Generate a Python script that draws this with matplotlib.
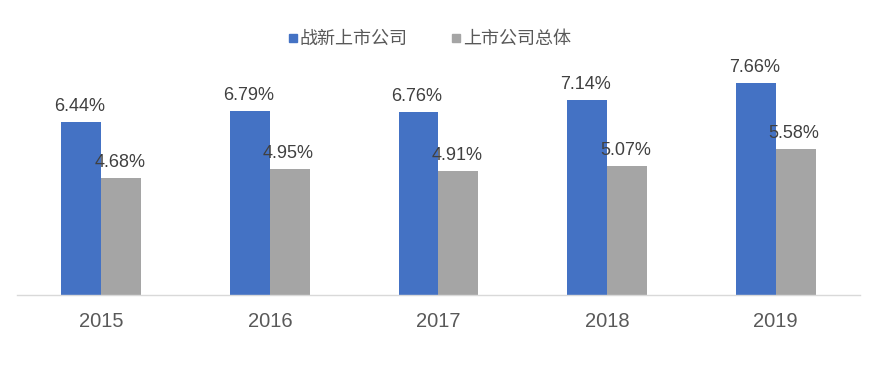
import numpy as np
import matplotlib.pyplot as plt
from matplotlib.lines import Line2D

years = ["2015", "2016", "2017", "2018", "2019"]
new_listed = [6.44, 6.79, 6.76, 7.14, 7.66]
all_listed = [4.68, 4.95, 4.91, 5.07, 5.58]
series_names = ["战新上市公司", "上市公司总体"]

blue = "#4472C4"
gray = "#A5A5A5"

plt.rcParams["font.family"] = ["Liberation Sans", "DejaVu Sans"]

fig = plt.figure(figsize=(8.82, 3.66), dpi=100)
ax = fig.add_axes([0.0193, 0.194, 0.9557, 0.643])

x = np.arange(len(years))
w = 0.237
b1 = ax.bar(x - w / 2, new_listed, w, color=blue, bottom=0)
b2 = ax.bar(x + w / 2, all_listed, w, color=gray, bottom=0)

# value labels above each bar
for bars, vals in [(b1, new_listed), (b2, all_listed)]:
    for rect, v in zip(bars, vals):
        ax.annotate(f"{v:.2f}%", (rect.get_x() + rect.get_width() / 2, v),
                    xytext=(-1, 5), textcoords="offset points",
                    ha="center", va="bottom", fontsize=13, color="#404040")

ax.set_ylim(1, 8.4)
ax.set_xlim(-0.5, 4.5)
ax.set_xticks(x)
ax.set_xticklabels(years, fontsize=14.5, color="#595959")
ax.tick_params(axis="x", length=0, pad=12)
ax.set_yticks([])
for s in ["top", "left", "right"]:
    ax.spines[s].set_visible(False)
ax.spines["bottom"].set_color("#D9D9D9")
ax.spines["bottom"].set_linewidth(1)

handles = [Line2D([], [], marker="s", color=c, linestyle="none", markersize=6)
           for c in [blue, gray]]
leg = fig.legend(handles, series_names, loc="center", bbox_to_anchor=(0.487, 0.893),
                 ncol=2, frameon=False, handlelength=0.5, handletextpad=0.15,
                 columnspacing=2.4,
                 prop={"family": ["Noto Sans CJK SC", "DejaVu Sans"], "size": 13,
                       "weight": "light"})
for t in leg.get_texts():
    t.set_color("#595959")

fig.savefig("out.png", dpi=100)
